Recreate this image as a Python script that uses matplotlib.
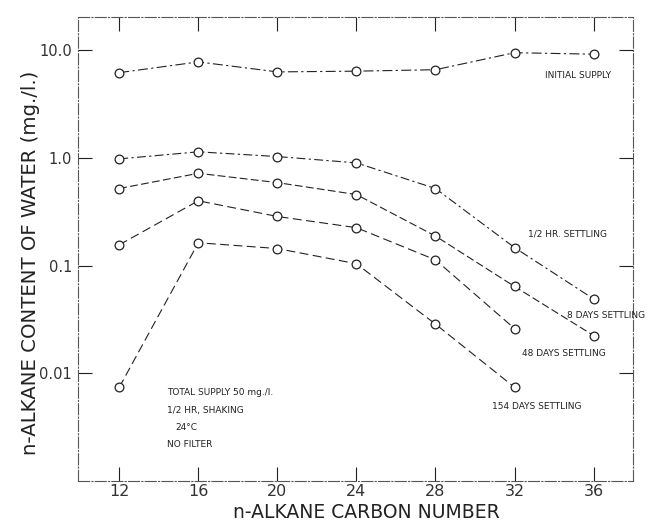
import matplotlib
matplotlib.use("Agg")
import matplotlib.pyplot as plt

carbon = [12, 16, 20, 24, 28, 32, 36]
initial_supply = [6.2, 7.8, 6.3, 6.4, 6.6, 9.5, 9.2]
half_hr = [0.98, 1.14, 1.03, 0.90, 0.52, 0.147, 0.049]
days8 = [0.52, 0.72, 0.59, 0.457, 0.188, 0.064, 0.0224]
carbon_short = [12, 16, 20, 24, 28, 32]
days48 = [0.156, 0.40, 0.286, 0.225, 0.113, 0.026]
days154 = [0.0074, 0.163, 0.144, 0.104, 0.0286, 0.0074]

xticks = [12, 16, 20, 24, 28, 32, 36]
yticks = [0.01, 0.1, 1.0, 10.0]
yticklabels = ["0.01", "0.1", "1.0", "10.0"]

fig = plt.figure(figsize=(6.48, 5.21), dpi=100)
ax = fig.add_axes([0.120, 0.077, 0.857, 0.890])
ax.set_yscale("log")
ax.set_xlim(9.9, 38.0)
ax.set_ylim(0.001, 20.3)

ink = "#222222"
mk = dict(marker="o", markersize=6.3, mfc="white", mec=ink, mew=0.9, color=ink, lw=0.8)
ax.plot(carbon, initial_supply, linestyle=(0, (9, 3, 2, 3)), **mk)
ax.plot(carbon, half_hr, linestyle=(0, (8, 3, 2, 3)), **mk)
ax.plot(carbon, days8, linestyle=(0, (7, 3)), **mk)
ax.plot(carbon_short, days48, linestyle=(0, (8, 4)), **mk)
ax.plot(carbon_short, days154, linestyle=(0, (8, 4)), **mk)

ax.set_xticks(xticks)
ax.set_xticklabels([str(v) for v in xticks])
ax.set_yticks(yticks)
ax.set_yticklabels(yticklabels)
ax.minorticks_off()
ax.yaxis.set_minor_locator(matplotlib.ticker.NullLocator())
ax.tick_params(direction="in", length=10, width=0.8, colors=ink,
               top=True, right=True)
ax.tick_params(axis="x", pad=2, labelsize=11.5)
ax.tick_params(axis="y", pad=4, labelsize=10.5)
for lab in ax.get_xticklabels() + ax.get_yticklabels():
    lab.set_color("#333333")
for s in ax.spines.values():
    s.set_linewidth(0.8)
    s.set_color("#555555")
    s.set_linestyle((0, (10, 2, 1, 2)))

fig.text(366 / 648, 1 - 512 / 521, "n-ALKANE CARBON NUMBER", fontsize=13.5,
         color=ink, ha="center", va="center")
fig.text(31 / 648, 1 - 263 / 521, "n-ALKANE CONTENT OF WATER (mg./l.)",
         fontsize=14.2, color=ink, ha="center", va="center", rotation=90)

tk = dict(fontsize=6.5, color=ink)
ax.text(35.2, 5.8, "INITIAL SUPPLY", ha="center", va="center", **tk)
ax.text(34.7, 0.198, "1/2 HR. SETTLING", ha="center", va="center", **tk)
ax.text(36.65, 0.0344, "8 DAYS SETTLING", ha="center", va="center", **tk)
ax.text(34.5, 0.0153, "48 DAYS SETTLING", ha="center", va="center", **tk)
ax.text(33.1, 0.00495, "154 DAYS SETTLING", ha="center", va="center", **tk)

ax.text(14.4, 0.0066, "TOTAL SUPPLY 50 mg./l.", ha="left", va="center", **tk)
ax.text(14.4, 0.0045, "1/2 HR, SHAKING", ha="left", va="center", **tk)
ax.text(14.85, 0.0031, "24°C", ha="left", va="center", **tk)
ax.text(14.4, 0.0022, "NO FILTER", ha="left", va="center", **tk)

fig.savefig("out.png", dpi=100)
